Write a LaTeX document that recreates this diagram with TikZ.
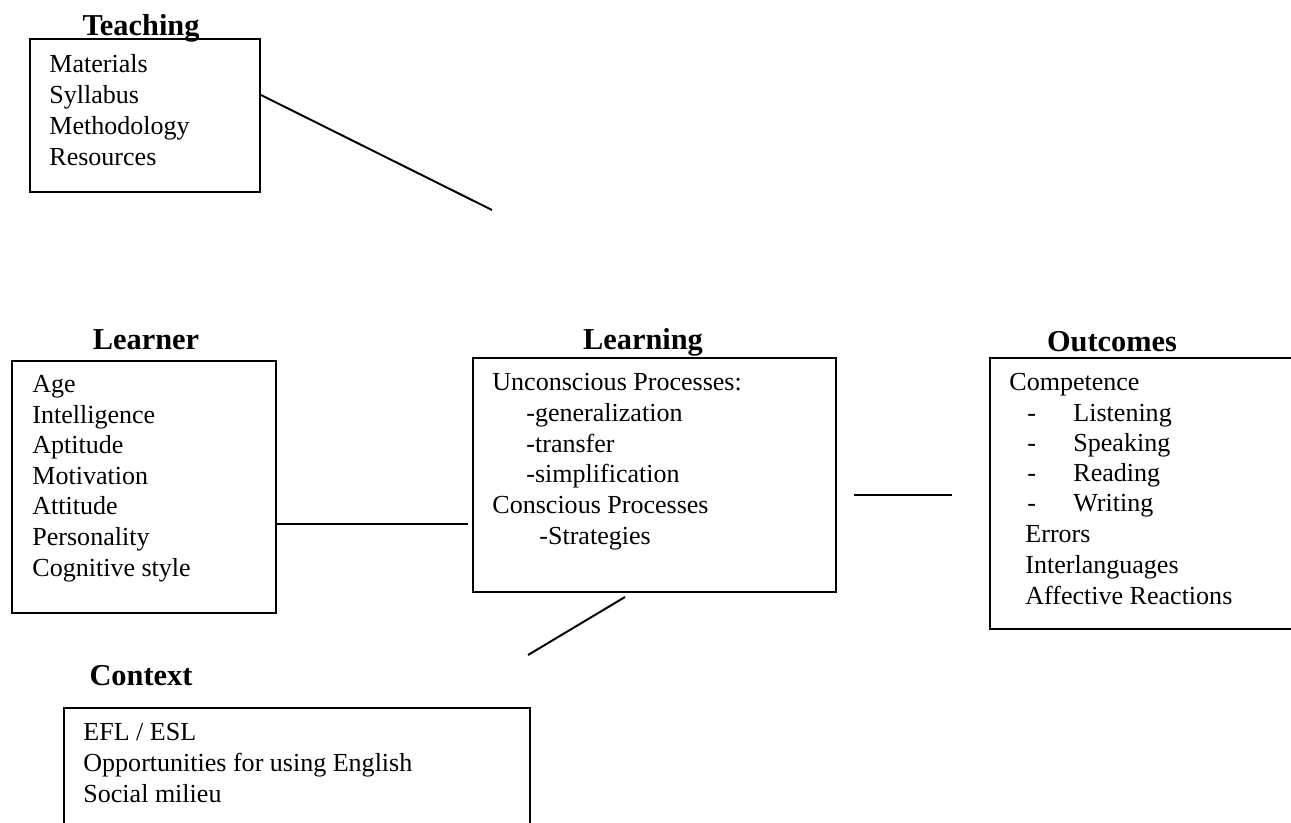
\documentclass[tikz,border=0pt]{standalone}
\usepackage{fontspec}
\setmainfont{Liberation Serif}
\usetikzlibrary{calc}

\tikzset{
  frame/.style={draw, line width=0.9pt, rectangle, inner sep=0pt, anchor=north west},
  heading/.style={anchor=base, inner sep=0pt, font=\fontsize{14}{16}\selectfont\bfseries},
  entry/.style={anchor=base west, inner sep=0pt, font=\fontsize{12}{14}\selectfont},
  link/.style={line width=0.9pt},
}

\begin{document}
\begin{tikzpicture}[x=0.4611pt, y=-0.4611pt]
\useasboundingbox (0,0) rectangle (1291,823);
\clip (0,0) rectangle (1291,823);

% ---- boxes ----
\node[frame, minimum width={230*0.4611pt}, minimum height={153*0.4611pt}] (teach) at (29,38) {};
\node[frame, minimum width={264*0.4611pt}, minimum height={252*0.4611pt}] (learner) at (11,360) {};
\node[frame, minimum width={363*0.4611pt}, minimum height={234*0.4611pt}] (learning) at (472,357) {};
\node[frame, minimum width={320*0.4611pt}, minimum height={271*0.4611pt}] (outcomes) at (989,357) {};
\node[frame, minimum width={466*0.4611pt}, minimum height={130*0.4611pt}] (context) at (63,707) {};

% ---- headings ----
\node[heading] (hTeach) at (141,36) {Teaching};
\node[heading] (hLearner) at (146,349) {Learner};
\node[heading] (hLearning) at (643,349) {Learning};
\node[heading] (hOutcomes) at (1112,351) {Outcomes};
\node[heading] (hContext) at (141,685) {Context};

% ---- Teaching ----
\node[entry] (t1) at (49,73) {Materials};
\node[entry] (t2) at (49,104) {Syllabus};
\node[entry] (t3) at (49,135) {Methodology};
\node[entry] (t4) at (49,166) {Resources};

% ---- Learner ----
\node[entry] (a1) at (32,392) {Age};
\node[entry] (a2) at (32,423) {Intelligence};
\node[entry] (a3) at (32,453) {Aptitude};
\node[entry] (a4) at (32,484) {Motivation};
\node[entry] (a5) at (32,514) {Attitude};
\node[entry] (a6) at (32,545) {Personality};
\node[entry] (a7) at (32,576) {Cognitive style};

% ---- Learning ----
\node[entry] (b1) at (492,390) {Unconscious Processes:};
\node[entry] (b2) at (526,421) {-generalization};
\node[entry] (b3) at (526,452) {-transfer};
\node[entry] (b4) at (526,482) {-simplification};
\node[entry] (b5) at (492,513) {Conscious Processes};
\node[entry] (b6) at (539,544) {-Strategies};

% ---- Outcomes ----
\node[entry] (c1) at (1009,390) {Competence};
\node[entry] (d2) at (1027,421) {-};
\node[entry] (c2) at (1073,421) {Listening};
\node[entry] (d3) at (1027,451) {-};
\node[entry] (c3) at (1073,451) {Speaking};
\node[entry] (d4) at (1027,481) {-};
\node[entry] (c4) at (1073,481) {Reading};
\node[entry] (d5) at (1027,511) {-};
\node[entry] (c5) at (1073,511) {Writing};
\node[entry] (c6) at (1025,542) {Errors};
\node[entry] (c7) at (1025,573) {Interlanguages};
\node[entry] (c8) at (1025,604) {Affective Reactions};

% ---- Context ----
\node[entry] (e1) at (83,740) {EFL / ESL};
\node[entry] (e2) at (83,771) {Opportunities for using English};
\node[entry] (e3) at (83,802) {Social milieu};

% ---- connectors ----
\coordinate (teachEnd) at (492,210);
\coordinate (learnerEnd) at (468,524);
\coordinate (outA) at (854,495);
\coordinate (outB) at (952,495);
\coordinate (ctxA) at (625,597);
\coordinate (ctxB) at (528,655);

\draw[link] ($(teach.north east)+(0,57)$) -- (teachEnd);
\draw[link] (learner.east |- learnerEnd) -- (learnerEnd);
\draw[link] (outA) -- (outB);
\draw[link] (ctxA) -- (ctxB);
\end{tikzpicture}
\end{document}
